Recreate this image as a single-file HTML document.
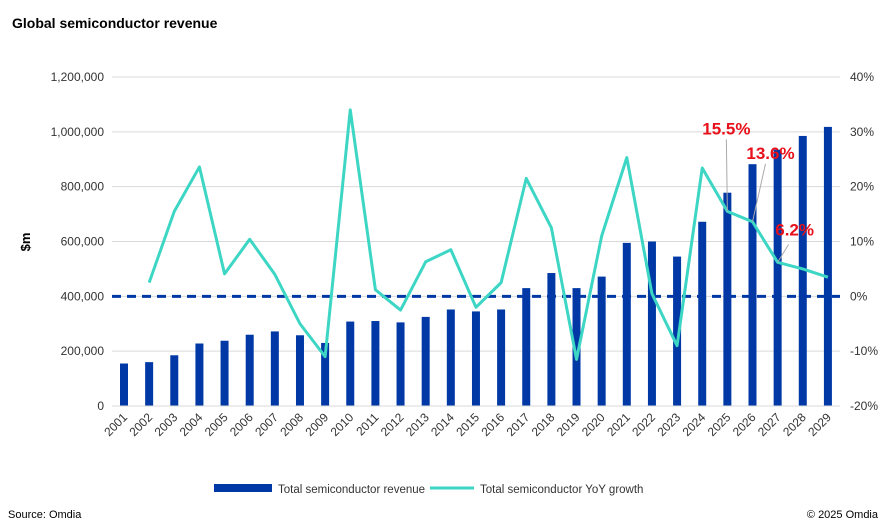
<!DOCTYPE html>
<html><head><meta charset="utf-8">
<style>
body{margin:0;background:#fff;font-family:"Liberation Sans",sans-serif;}
#wrap{position:relative;width:895px;height:525px;overflow:hidden;}
</style></head>
<body><div id="wrap">
<svg id="chart" width="895" height="525" xmlns="http://www.w3.org/2000/svg">
<text x="12" y="28" font-size="14" font-weight="bold" fill="#000">Global semiconductor revenue</text>
<text x="30" y="242" font-size="13" font-weight="bold" transform="rotate(-90 30 242)" text-anchor="middle">$m</text>
<g id="grid"></g><g id="bars"></g><g id="axes"></g><g id="line"></g><g id="ann"></g>
<g>
<rect x="214" y="484" width="58" height="8" fill="#0039a6"/>
<text x="278" y="493" font-size="11.5" fill="#333">Total semiconductor revenue</text>
<line x1="430" y1="488" x2="474" y2="488" stroke="#3dd6c4" stroke-width="3"/>
<text x="480" y="493" font-size="11.5" fill="#333">Total semiconductor YoY growth</text>
</g>
<text x="8" y="518" font-size="11" fill="#000">Source: Omdia</text>
<text x="878" y="518" font-size="11" fill="#000" text-anchor="end">© 2025 Omdia</text>
</svg></div>
<script>
const years=["2001","2002","2003","2004","2005","2006","2007","2008","2009","2010","2011","2012","2013","2014","2015","2016","2017","2018","2019","2020","2021","2022","2023","2024","2025","2026","2027","2028","2029"];
const revenue=[155000,160000,185000,228000,238000,260000,272000,258000,230000,308000,310000,305000,325000,352000,345000,352000,430000,485000,430000,472000,595000,600000,545000,672000,778000,882000,935000,985000,1018000];
const growth=[null,2.5,15.5,23.6,4.1,10.4,4.0,-5.0,-11.0,34.0,1.2,-2.5,6.3,8.5,-2.0,2.5,21.5,12.5,-11.5,11.0,25.3,0.5,-9.0,23.4,15.5,13.6,6.2,5.0,3.5];
const leftTicks=[0,200000,400000,600000,800000,1000000,1200000];
const rightTicks=[-20,-10,0,10,20,30,40];
const annYears=["2025","2026","2027"];
const annLabels=["15.5%","13.6%","6.2%"];
const NS="http://www.w3.org/2000/svg";
const plotTop=77,plotBot=406,x0=124,step=25.14;
const yL=v=>plotBot-(v/1200000)*(plotBot-plotTop);
const yR=v=>plotBot-((v+20)/60)*(plotBot-plotTop);
const xC=i=>x0+i*step;
function mk(t,a,p){const e=document.createElementNS(NS,t);for(const k in a)e.setAttribute(k,a[k]);p.appendChild(e);return e;}
const G=document.getElementById('grid'),B=document.getElementById('bars'),A=document.getElementById('axes'),L=document.getElementById('line'),N=document.getElementById('ann');
leftTicks.forEach(v=>{
 if(v>0){const g=mk('line',{x1:112,x2:840,y1:yL(v),y2:yL(v),stroke:'#d9d9d9','stroke-width':1},G);
 
 }
 const t=mk('text',{x:104,y:yL(v)+4,'font-size':12,'text-anchor':'end',fill:'#333'},A);t.textContent=v.toLocaleString('en-US');
 
 
});
rightTicks.forEach(v=>{
 const t=mk('text',{x:850,y:yR(v)+4,'font-size':12,fill:'#333'},A);t.textContent=v+'%';
 
 
});
const base=mk('line',{x1:112,x2:840,y1:plotBot,y2:plotBot,stroke:'#d9d9d9'},A);


revenue.forEach((v,i)=>{
 const r=mk('rect',{x:xC(i)-4,y:yL(v),width:8,height:plotBot-yL(v),fill:'#0039a6'},B);
 
 
});
years.forEach((y,i)=>{
 const t=mk('text',{x:xC(i)+4,y:418,'font-size':12,'text-anchor':'end',fill:'#333',transform:`rotate(-45 ${xC(i)+4} 418)`},A);t.textContent=y;
 
 
});
const zl=mk('line',{x1:112,x2:840,y1:yR(0),y2:yR(0),stroke:'#0039a6','stroke-width':3,'stroke-dasharray':'9,6'},L);


let pts=[];growth.forEach((g,i)=>{if(g!==null)pts.push(xC(i)+','+yR(g));});
const pl=mk('polyline',{points:pts.join(' '),fill:'none',stroke:'#3dd6c4','stroke-width':3,'stroke-linejoin':'round'},L);


const offs=[[-1,-77],[18,-63],[17,-27]];
const leadEnd=[[-1,-72],[13,-58],[11,-18]];
annYears.forEach((y,k)=>{
 const i=years.indexOf(y),px=xC(i),py=yR(growth[i]);
 const l=mk('line',{x1:px,y1:py,x2:px+leadEnd[k][0],y2:py+leadEnd[k][1],stroke:'#aaa','stroke-width':1},N);
 
 
 const t=mk('text',{x:px+offs[k][0],y:py+offs[k][1],'font-size':17,'font-weight':'bold',fill:'#e8101a','text-anchor':'middle'},N);t.textContent=annLabels[k];
 
 
});
</script>
</body></html>
